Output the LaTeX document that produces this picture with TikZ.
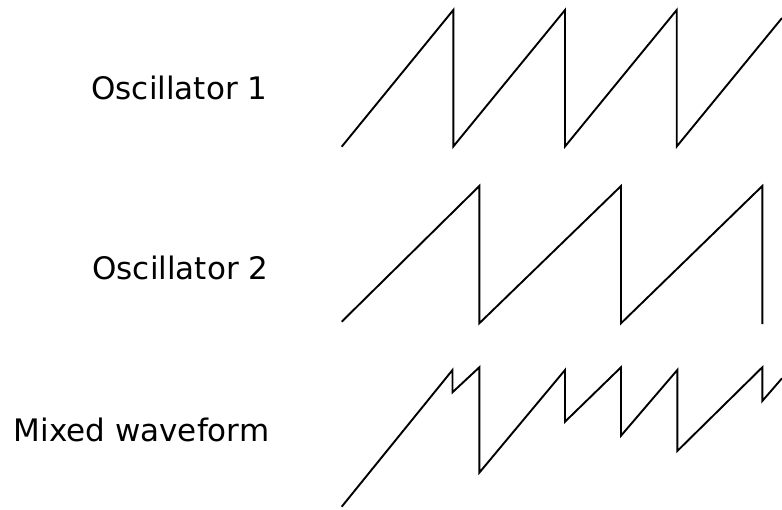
\documentclass[tikz,border=0pt]{standalone}
\usepackage{fontspec}
\setmainfont{DejaVu Sans}
\usepackage{tikz}
\usetikzlibrary{positioning}

\begin{document}
\begin{tikzpicture}[
  x=1pt, y=-1pt,
  lbl/.style={anchor=base east, inner sep=0pt, font=\fontsize{31}{37}\selectfont},
  wave/.style={draw=black, line width=1.9pt}
]
\useasboundingbox (0,0) rectangle (782,509);
% Labels
\node[lbl] (osc1) at (267.5,99.5) {Oscillator 1};
\node[lbl] (osc2) at (268.5,279.5) {Oscillator 2};
\node[lbl] (mix) at (269.5,441) {Mixed waveform};
% Oscillator 1
\draw[wave] (341.7,146.7) -- (453.3,10) -- (453.3,146.5) -- (565,10) -- (565,146.5)
  -- (676.7,10) -- (676.7,146.5) -- (782,18);
% Oscillator 2
\draw[wave] (341.7,321.7) -- (479.3,186) -- (479.3,323.3) -- (621,186) -- (621,323.3)
  -- (762.3,186) -- (762.3,324);
% Mixed waveform
\draw[wave] (341.7,506.7) -- (452.5,370) -- (452.5,392.3) -- (479.3,367.3) -- (479.3,472.7)
  -- (565,370) -- (565,421.7) -- (621,367.3) -- (621,435.7) -- (677.3,370) -- (677.3,451)
  -- (762.3,367.3) -- (762.3,401) -- (782,378.3);
\end{tikzpicture}
\end{document}
